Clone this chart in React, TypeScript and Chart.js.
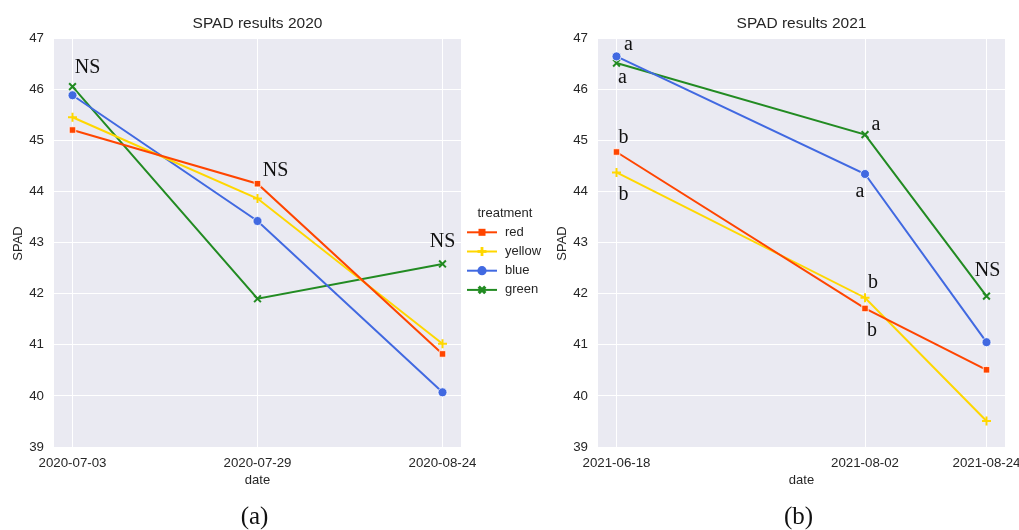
import React, { useEffect, useRef } from "react";
import { Chart, registerables } from "chart.js";

Chart.register(...registerables);

// ---- data ----
const treatments = ["red", "yellow", "blue", "green"];
const lineColors = ["#FF4500", "#FFD700", "#4169E1", "#228B22"];

const dates2020 = ["2020-07-03", "2020-07-29", "2020-08-24"];
const red2020 = [45.2, 44.15, 40.82];
const yellow2020 = [45.45, 43.86, 41.02];
const blue2020 = [45.88, 43.42, 40.07];
const green2020 = [46.05, 41.9, 42.58];

const dates2021 = ["2021-06-18", "2021-08-02", "2021-08-24"];
const red2021 = [44.77, 41.71, 40.51];
const yellow2021 = [44.37, 41.92, 39.51];
const blue2021 = [46.64, 44.34, 41.05];
const green2021 = [46.51, 45.11, 41.95];

const yTicks = [39, 40, 41, 42, 43, 44, 45, 46, 47];

// significance letters: text, date, SPAD value of the baseline, horizontal nudge (px)
const notes2020 = [
  { text: "NS", date: "2020-07-03", y: 46.32, dx: 15 },
  { text: "NS", date: "2020-07-29", y: 44.3, dx: 18 },
  { text: "NS", date: "2020-08-24", y: 42.91, dx: 0 },
];
const notes2021 = [
  { text: "a", date: "2021-06-18", y: 46.77, dx: 12 },
  { text: "a", date: "2021-06-18", y: 46.12, dx: 6 },
  { text: "b", date: "2021-06-18", y: 44.94, dx: 7 },
  { text: "b", date: "2021-06-18", y: 43.84, dx: 7 },
  { text: "a", date: "2021-08-02", y: 45.2, dx: 11 },
  { text: "a", date: "2021-08-02", y: 43.89, dx: -5 },
  { text: "b", date: "2021-08-02", y: 42.11, dx: 8 },
  { text: "b", date: "2021-08-02", y: 41.17, dx: 7 },
  { text: "NS", date: "2021-08-24", y: 42.34, dx: 1 },
];

// ---- styling ----
const W = 1019;
const H = 530;
const SANS = "'Liberation Sans', Arial, sans-serif";
const SERIF = "'Liberation Serif', 'Times New Roman', serif";
const TEXT = "#262626";
const PANEL_BG = "#EAEAF2";

const DAY_MS = 86400000;
const toDays = (dates: string[]) => {
  const t0 = Date.parse(dates[0]);
  return dates.map((d) => (Date.parse(d) - t0) / DAY_MS);
};

const markerStyles = [
  { pointStyle: "rect", pointRadius: 4.6, pointBorderColor: "#ffffff", pointBorderWidth: 0.8 },
  { pointStyle: "cross", pointRadius: 4.5, pointBorderColor: "#FFD700", pointBorderWidth: 2 },
  { pointStyle: "circle", pointRadius: 4.5, pointBorderColor: "#ffffff", pointBorderWidth: 0.8 },
  { pointStyle: "crossRot", pointRadius: 4.8, pointBorderColor: "#228B22", pointBorderWidth: 2 },
];

type Note = { text: string; date: string; y: number; dx: number };

function drawLegend(ctx: CanvasRenderingContext2D) {
  const x0 = 467;
  const x1 = 497;
  const mx = 482;
  const rowY = [232.3, 251.5, 270.7, 289.9];
  ctx.save();
  ctx.font = `13px ${SANS}`;
  ctx.fillStyle = TEXT;
  ctx.textBaseline = "middle";
  ctx.textAlign = "left";
  ctx.fillText("treatment", 477.5, 213.5);
  treatments.forEach((name, i) => {
    const y = rowY[i];
    const c = lineColors[i];
    ctx.strokeStyle = c;
    ctx.lineWidth = 2;
    ctx.beginPath();
    ctx.moveTo(x0, y);
    ctx.lineTo(x1, y);
    ctx.stroke();
    ctx.fillStyle = c;
    if (i === 0) {
      ctx.fillRect(mx - 3.5, y - 3.5, 7, 7);
    } else if (i === 1) {
      ctx.fillRect(mx - 4.5, y - 1.4, 9, 2.8);
      ctx.fillRect(mx - 1.4, y - 4.5, 2.8, 9);
    } else if (i === 2) {
      ctx.beginPath();
      ctx.arc(mx, y, 4.6, 0, Math.PI * 2);
      ctx.fill();
    } else {
      ctx.lineWidth = 3.2;
      ctx.beginPath();
      ctx.moveTo(mx - 3.3, y - 3.3);
      ctx.lineTo(mx + 3.3, y + 3.3);
      ctx.moveTo(mx - 3.3, y + 3.3);
      ctx.lineTo(mx + 3.3, y - 3.3);
      ctx.stroke();
    }
    ctx.fillStyle = TEXT;
    ctx.fillText(name, 505, y);
  });
  ctx.restore();
}

type PanelProps = {
  title: string;
  caption: string;
  dates: string[];
  series: number[][];
  notes: Note[];
  padLeft: number;
  padRight: number;
  yTitleX: number;
  legend: boolean;
};

function Panel(props: PanelProps) {
  const ref = useRef<HTMLCanvasElement | null>(null);

  useEffect(() => {
    const canvas = ref.current;
    if (!canvas) return;
    const { title, caption, dates, series, notes, padLeft, padRight, yTitleX, legend } = props;
    const days = toDays(dates);
    const span = days[days.length - 1] - days[0];
    const dayOf = (d: string) => (Date.parse(d) - Date.parse(dates[0])) / DAY_MS;

    const decorations = {
      id: "decorations",
      beforeDraw(chart: any) {
        const { ctx, chartArea: a } = chart;
        ctx.save();
        ctx.fillStyle = PANEL_BG;
        ctx.fillRect(a.left, a.top, a.right - a.left, a.bottom - a.top);
        ctx.restore();
      },
      afterDraw(chart: any) {
        const { ctx, chartArea: a, scales } = chart;
        const cx = (a.left + a.right) / 2;
        const cy = (a.top + a.bottom) / 2;
        ctx.save();
        ctx.fillStyle = TEXT;
        ctx.textAlign = "center";
        ctx.textBaseline = "middle";
        ctx.font = `15.5px ${SANS}`;
        ctx.fillText(title, cx, 24);
        ctx.font = `13px ${SANS}`;
        ctx.fillText("date", cx, 480);
        ctx.save();
        ctx.translate(yTitleX, cy + 1);
        ctx.rotate(-Math.PI / 2);
        ctx.fillText("SPAD", 0, 0);
        ctx.restore();
        ctx.fillStyle = "#111111";
        ctx.font = `25px ${SERIF}`;
        ctx.fillText(caption, cx - 3, 517);
        ctx.font = `20px ${SERIF}`;
        ctx.textBaseline = "alphabetic";
        notes.forEach((n) => {
          const x = scales.x.getPixelForValue(dayOf(n.date)) + n.dx;
          const y = scales.y.getPixelForValue(n.y);
          ctx.fillText(n.text, x, y);
        });
        ctx.restore();
        if (legend) drawLegend(ctx);
      },
    };

    const chart = new Chart(canvas, {
      type: "line",
      data: {
        datasets: treatments.map((name, i) => ({
          label: name,
          data: days.map((d, j) => ({ x: d, y: series[i][j] })),
          borderColor: lineColors[i],
          backgroundColor: lineColors[i],
          pointBackgroundColor: lineColors[i],
          borderWidth: 2,
          tension: 0,
          clip: false,
          ...markerStyles[i],
        })) as any,
      },
      options: {
        animation: false,
        responsive: false,
        devicePixelRatio: 1,
        events: [],
        layout: { padding: { left: padLeft, right: padRight, top: 38, bottom: 43 } },
        plugins: {
          legend: { display: false },
          title: { display: false },
          tooltip: { enabled: false },
        },
        scales: {
          x: {
            type: "linear",
            min: days[0] - span * 0.05,
            max: days[days.length - 1] + span * 0.05,
            afterBuildTicks: (s: any) => {
              s.ticks = days.map((v) => ({ value: v }));
            },
            afterFit: (s: any) => {
              s.height = 40;
              // tick labels may run past the plot edges, as in the figure
              s.paddingLeft = 0;
              s.paddingRight = 0;
            },
            ticks: {
              autoSkip: false,
              maxRotation: 0,
              padding: 8,
              color: TEXT,
              font: { family: SANS, size: 13.3 },
              callback: (_v: any, i: number) => dates[i],
            },
            grid: { color: "#ffffff", lineWidth: 1, drawTicks: false },
            border: { display: false },
          },
          y: {
            type: "linear",
            min: yTicks[0],
            max: yTicks[yTicks.length - 1],
            afterBuildTicks: (s: any) => {
              s.ticks = yTicks.map((v) => ({ value: v }));
            },
            afterFit: (s: any) => {
              s.width = 40;
              s.paddingTop = 0;
              s.paddingBottom = 0;
            },
            ticks: {
              padding: 10,
              color: TEXT,
              font: { family: SANS, size: 13.3 },
              callback: (v: any) => String(v),
            },
            grid: { color: "#ffffff", lineWidth: 1, drawTicks: false },
            border: { display: false },
          },
        },
      } as any,
      plugins: [decorations as any],
    });

    return () => chart.destroy();
  }, []);

  return (
    <canvas
      ref={ref}
      width={W}
      height={H}
      style={{ position: "absolute", left: 0, top: 0, width: W, height: H }}
    />
  );
}

export default function App() {
  return (
    <div
      style={{
        position: "fixed",
        left: 0,
        top: 0,
        width: W,
        height: H,
        background: "#ffffff",
        overflow: "hidden",
      }}
    >
      <Panel
        title="SPAD results 2020"
        caption="(a)"
        dates={dates2020}
        series={[red2020, yellow2020, blue2020, green2020]}
        notes={notes2020}
        padLeft={14}
        padRight={W - 461}
        yTitleX={18}
        legend={true}
      />
      <Panel
        title="SPAD results 2021"
        caption="(b)"
        dates={dates2021}
        series={[red2021, yellow2021, blue2021, green2021]}
        notes={notes2021}
        padLeft={558}
        padRight={W - 1005}
        yTitleX={562}
        legend={false}
      />
    </div>
  );
}
